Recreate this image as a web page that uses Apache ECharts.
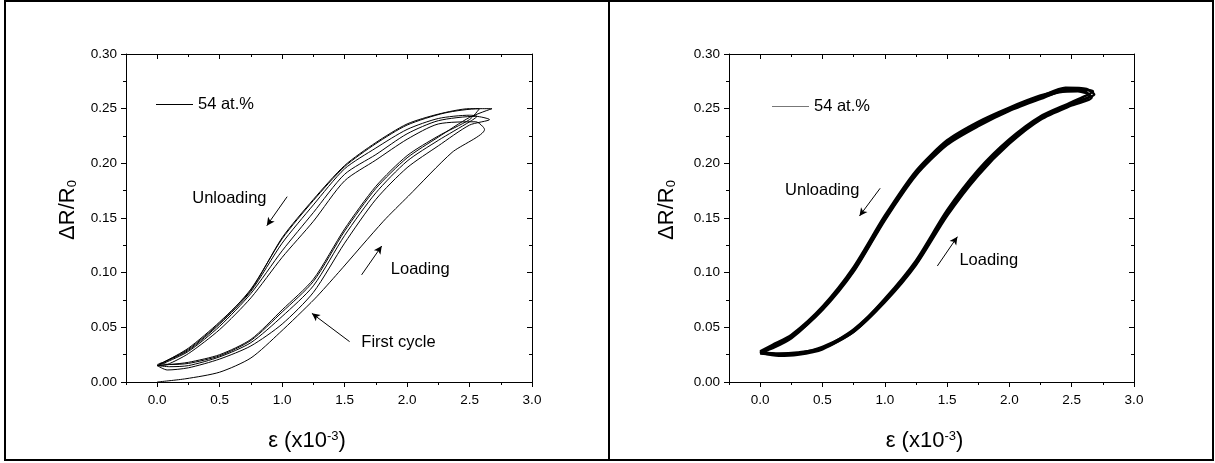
<!DOCTYPE html>
<html>
<head>
<meta charset="utf-8">
<script src="https://cdn.jsdelivr.net/npm/echarts@6/dist/echarts.min.js"></script>
<style>
  html, body { margin: 0; padding: 0; background: #fff; }
  #chart { width: 1215px; height: 463px; }
</style>
</head>
<body>
<div id="chart"></div>
<script>
// tick positions (strain axis, x10^-3)
const xMajor = [0, 0.5, 1, 1.5, 2, 2.5, 3]
const xMinor = [-0.25, 0.25, 0.75, 1.25, 1.75, 2.25, 2.75]

// left panel: loading then unloading for each cycle, [strain, dR/R0]
const leftCycle1 = [
  [0, 0], [0.23, 0.003], [0.5, 0.009], [0.75, 0.022], [0.98, 0.045], [1.26, 0.076], [1.45, 0.1],
  [1.81, 0.147], [2.01, 0.17], [2.36, 0.21], [2.62, 0.231],
  [2.55, 0.238], [2.25, 0.236], [2.0, 0.222], [1.75, 0.203], [1.5, 0.184], [1.25, 0.147],
  [1.0, 0.114], [0.75, 0.077], [0.5, 0.048], [0.25, 0.026], [0.08, 0.016], [0.0, 0.015]
]
const leftCycle2 = [
  [0.0, 0.015], [0.08, 0.011], [0.25, 0.013], [0.5, 0.021], [0.75, 0.033], [1.0, 0.053], [1.25, 0.082],
  [1.5, 0.127], [1.75, 0.167], [2.0, 0.196], [2.25, 0.216], [2.5, 0.235], [2.66, 0.24],
  [2.55, 0.243], [2.25, 0.239], [2.0, 0.227], [1.75, 0.208], [1.5, 0.19], [1.25, 0.155],
  [1.0, 0.12], [0.75, 0.081], [0.5, 0.051], [0.25, 0.028], [0.05, 0.017], [0.0, 0.015]
]
const leftCycle3 = [
  [0.0, 0.015], [0.1, 0.014], [0.25, 0.015], [0.5, 0.023], [0.75, 0.036], [1.0, 0.06], [1.25, 0.088],
  [1.5, 0.134], [1.75, 0.173], [2.0, 0.202], [2.25, 0.221], [2.5, 0.238], [2.56, 0.243],
  [2.5, 0.244], [2.25, 0.241], [2.0, 0.231], [1.75, 0.214], [1.5, 0.195], [1.25, 0.162],
  [1.0, 0.127], [0.75, 0.083], [0.5, 0.053], [0.25, 0.029], [0.05, 0.018], [0.02, 0.017]
]
const leftCycle4 = [
  [0.02, 0.017], [0.1, 0.016], [0.25, 0.017], [0.5, 0.024], [0.75, 0.038], [1.0, 0.064], [1.25, 0.092],
  [1.5, 0.138], [1.75, 0.177], [2.0, 0.205], [2.25, 0.224], [2.5, 0.242], [2.68, 0.25],
  [2.58, 0.25], [2.3, 0.246], [2.0, 0.235], [1.75, 0.218], [1.5, 0.197], [1.25, 0.166],
  [1.0, 0.131], [0.75, 0.085], [0.5, 0.054], [0.25, 0.03], [0.05, 0.018], [0.0, 0.015]
]
const leftCycle5 = [
  [0.0, 0.015], [0.1, 0.016], [0.25, 0.018], [0.5, 0.025], [0.75, 0.039], [1.0, 0.066], [1.25, 0.094],
  [1.5, 0.14], [1.75, 0.179], [2.0, 0.207], [2.25, 0.225], [2.5, 0.24], [2.58, 0.25],
  [2.5, 0.25], [2.25, 0.245], [2.0, 0.236], [1.75, 0.219], [1.5, 0.198], [1.25, 0.167],
  [1.0, 0.132], [0.75, 0.084], [0.5, 0.055], [0.25, 0.031], [0.05, 0.018], [0.0, 0.016]
]

// right panel: stabilised cycles
const rightCycle1 = [
  [0.0, 0.027], [0.15, 0.024], [0.3, 0.025], [0.5, 0.030], [0.75, 0.046], [1.0, 0.073], [1.25, 0.107],
  [1.5, 0.152], [1.75, 0.189], [2.0, 0.218], [2.25, 0.24], [2.5, 0.253], [2.66, 0.26],
  [2.6, 0.266], [2.45, 0.267], [2.25, 0.259], [2.0, 0.248], [1.75, 0.234], [1.5, 0.217], [1.25, 0.189],
  [1.0, 0.148], [0.75, 0.101], [0.5, 0.066], [0.25, 0.041], [0.1, 0.032], [0.0, 0.027]
]
const rightCycle2 = [
  [0.0, 0.026], [0.15, 0.025], [0.3, 0.026], [0.5, 0.031], [0.75, 0.048], [1.0, 0.075], [1.25, 0.109],
  [1.5, 0.155], [1.75, 0.192], [2.0, 0.22], [2.25, 0.242], [2.5, 0.255], [2.68, 0.263],
  [2.62, 0.268], [2.45, 0.269], [2.25, 0.261], [2.0, 0.25], [1.75, 0.236], [1.5, 0.219], [1.25, 0.191],
  [1.0, 0.15], [0.75, 0.103], [0.5, 0.068], [0.25, 0.042], [0.1, 0.033], [0.0, 0.026]
]
const rightCycle3 = [
  [0.0, 0.028], [0.15, 0.025], [0.3, 0.026], [0.5, 0.032], [0.75, 0.047], [1.0, 0.076], [1.25, 0.111],
  [1.5, 0.157], [1.75, 0.194], [2.0, 0.222], [2.25, 0.243], [2.5, 0.256], [2.67, 0.266],
  [2.58, 0.267], [2.4, 0.266], [2.25, 0.262], [2.0, 0.251], [1.75, 0.238], [1.5, 0.221], [1.25, 0.193],
  [1.0, 0.152], [0.75, 0.105], [0.5, 0.069], [0.25, 0.043], [0.1, 0.034], [0.0, 0.028]
]
const rightCycle4 = [
  [0.0, 0.027], [0.15, 0.026], [0.3, 0.027], [0.5, 0.031], [0.75, 0.046], [1.0, 0.074], [1.25, 0.108],
  [1.5, 0.154], [1.75, 0.19], [2.0, 0.219], [2.25, 0.241], [2.5, 0.254], [2.65, 0.262],
  [2.55, 0.266], [2.4, 0.265], [2.25, 0.26], [2.0, 0.249], [1.75, 0.235], [1.5, 0.218], [1.25, 0.19],
  [1.0, 0.149], [0.75, 0.102], [0.5, 0.067], [0.25, 0.04], [0.1, 0.031], [0.0, 0.027]
]

// annotations (data units)
const leftNotes = [
  { text: 'Unloading', at: [0.28, 0.168] },
  { text: 'Loading', at: [1.87, 0.103] },
  { text: 'First cycle', at: [1.634, 0.036] }
]
const leftArrows = [
  [[1.04, 0.1695], [0.877, 0.143]],
  [[1.636, 0.098], [1.797, 0.1244]],
  [[1.54, 0.0369], [1.238, 0.0628]]
]
const rightNotes = [
  { text: 'Unloading', at: [0.2, 0.1756] },
  { text: 'Loading', at: [1.599, 0.1116] }
]
const rightArrows = [
  [[0.963, 0.1772], [0.797, 0.1518]],
  [[1.422, 0.1061], [1.583, 0.1329]]
]

const FONT = '"Liberation Sans", Arial, sans-serif'
const seriesName = '54 at.%'

const chart = echarts.init(document.getElementById('chart'), null, { renderer: 'canvas' })

// bottom/top x axes: main axis carries line, major ticks and labels; minor axis only short ticks
const makeXAxes = (gridIndex, namePad) => [
  {
    gridIndex, type: 'value', position: 'bottom', min: -0.25, max: 3,
    name: 'ε (x10{sup|-3})', nameLocation: 'middle', nameGap: 48,
    nameTextStyle: {
      fontFamily: FONT, fontSize: 22, color: '#000', padding: [0, namePad, 0, 0],
      rich: { sup: { fontFamily: FONT, fontSize: 13, color: '#000', verticalAlign: 'top' } }
    },
    axisLine: { onZero: false, lineStyle: { color: '#000', width: 1 } },
    axisTick: { customValues: xMajor, length: 5, lineStyle: { color: '#000' } },
    axisLabel: {
      customValues: xMajor, margin: 11, color: '#000', fontFamily: FONT, fontSize: 13.5,
      formatter: v => v.toFixed(1)
    },
    splitLine: { show: false }
  },
  {
    gridIndex, type: 'value', position: 'bottom', min: -0.25, max: 3,
    axisLine: { show: false, onZero: false },
    axisTick: { customValues: xMinor, length: 3, lineStyle: { color: '#000' } },
    axisLabel: { show: false },
    splitLine: { show: false }
  },
  {
    gridIndex, type: 'value', position: 'top', min: -0.25, max: 3,
    axisLine: { onZero: false, lineStyle: { color: '#000', width: 1 } },
    axisTick: { customValues: xMajor, inside: true, length: 5, lineStyle: { color: '#000' } },
    axisLabel: { show: false },
    splitLine: { show: false }
  },
  {
    gridIndex, type: 'value', position: 'top', min: -0.25, max: 3,
    axisLine: { show: false, onZero: false },
    axisTick: { customValues: xMinor, inside: true, length: 3, lineStyle: { color: '#000' } },
    axisLabel: { show: false },
    splitLine: { show: false }
  }
]

const makeYAxes = (gridIndex, nameGap) => [
  {
    gridIndex, type: 'value', position: 'left', min: 0, max: 0.3, interval: 0.05,
    name: 'ΔR/R{sub|0}', nameLocation: 'middle', nameGap,
    nameTextStyle: {
      fontFamily: FONT, fontSize: 22, color: '#000', padding: [0, 0, 0, 16],
      rich: { sub: { fontFamily: FONT, fontSize: 13, color: '#000', verticalAlign: 'bottom' } }
    },
    axisLine: { onZero: false, lineStyle: { color: '#000', width: 1 } },
    axisTick: { length: 5, lineStyle: { color: '#000' } },
    minorTick: { show: true, splitNumber: 2, length: 3, lineStyle: { color: '#000' } },
    axisLabel: { margin: 9, color: '#000', fontFamily: FONT, fontSize: 13.5, formatter: v => v.toFixed(2) },
    splitLine: { show: false },
    minorSplitLine: { show: false }
  },
  {
    gridIndex, type: 'value', position: 'right', min: 0, max: 0.3, interval: 0.05,
    axisLine: { onZero: false, lineStyle: { color: '#000', width: 1 } },
    axisTick: { inside: true, length: 5, lineStyle: { color: '#000' } },
    minorTick: { show: true, splitNumber: 2, length: 3, lineStyle: { color: '#000' } },
    axisLabel: { show: false },
    splitLine: { show: false },
    minorSplitLine: { show: false }
  }
]

const cycleSeries = (data, xAxisIndex, yAxisIndex, width) => ({
  name: seriesName,
  type: 'line',
  xAxisIndex,
  yAxisIndex,
  data,
  symbol: 'none',
  smooth: 0.25,
  silent: true,
  lineStyle: { color: '#000', width },
  itemStyle: { color: '#000' }
})

// arrows + labels hang on the first series of each panel
const withNotes = (s, notes, arrows) => {
  s.markLine = {
    silent: true,
    symbol: ['none', 'arrow'],
    symbolSize: [6, 8],
    label: { show: false },
    lineStyle: { color: '#000', width: 1, type: 'solid' },
    data: arrows.map(a => [{ coord: a[0] }, { coord: a[1] }])
  }
  s.markPoint = {
    silent: true,
    symbol: 'circle',
    symbolSize: 0,
    label: {
      show: true, position: 'right', distance: 0,
      color: '#000', fontFamily: FONT, fontSize: 16.5,
      formatter: p => p.name
    },
    data: notes.map(n => ({ name: n.text, coord: n.at }))
  }
  return s
}

const leftSeries = [leftCycle1, leftCycle2, leftCycle3, leftCycle4, leftCycle5]
  .map(d => cycleSeries(d, 0, 0, 1))
withNotes(leftSeries[0], leftNotes, leftArrows)

const rightSeries = [rightCycle1, rightCycle2, rightCycle3, rightCycle4]
  .map(d => cycleSeries(d, 4, 2, 2.6))
withNotes(rightSeries[0], rightNotes, rightArrows)
rightSeries[0].markLine.lineStyle.width = 1

const legendBase = {
  data: [seriesName],
  orient: 'horizontal',
  icon: 'rect',
  itemWidth: 37,
  itemHeight: 1,
  selectedMode: false,
  textStyle: { color: '#000', fontFamily: FONT, fontSize: 16.5 }
}

const option = {
  animation: false,
  backgroundColor: '#fff',
  legend: [
    { ...legendBase, left: 151, top: 91, itemStyle: { color: '#000' } },
    { ...legendBase, left: 767, top: 93, itemStyle: { color: '#777' } }
  ],
  grid: [
    { left: 126, top: 54, width: 406, height: 328 },
    { left: 729, top: 54, width: 405, height: 328 }
  ],
  xAxis: [...makeXAxes(0, 44), ...makeXAxes(1, 14)],
  yAxis: [...makeYAxes(0, 47), ...makeYAxes(1, 51)],
  series: [...leftSeries, ...rightSeries],
  graphic: [
    {
      type: 'rect', silent: true,
      shape: { x: 5, y: 1, width: 1208, height: 459 },
      style: { fill: 'none', stroke: '#000', lineWidth: 2 }
    },
    {
      type: 'line', silent: true,
      shape: { x1: 609, y1: 1, x2: 609, y2: 460 },
      style: { stroke: '#000', lineWidth: 2 }
    }
  ]
}

chart.setOption(option)
</script>
</body>
</html>
